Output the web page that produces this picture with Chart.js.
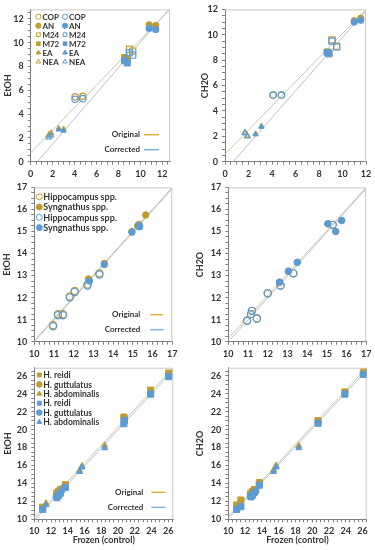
<!DOCTYPE html>
<html>
<head>
<meta charset="utf-8">
<script src="https://cdn.jsdelivr.net/npm/chart.js"></script>
<style>
  html, body { margin: 0; padding: 0; background: #fff; }
  body { width: 375px; height: 550px; position: relative; overflow: hidden; }
  canvas { position: absolute; }
</style>
</head>
<body>
<canvas id="p1" width="187" height="178" style="left:0;top:0"></canvas>
<canvas id="p2" width="188" height="178" style="left:187px;top:0"></canvas>
<canvas id="p3" width="187" height="180" style="left:0;top:178px"></canvas>
<canvas id="p4" width="188" height="180" style="left:187px;top:178px"></canvas>
<canvas id="p5" width="187" height="192" style="left:0;top:358px"></canvas>
<canvas id="p6" width="188" height="192" style="left:187px;top:358px"></canvas>
<script>
// ---- data ----
const stageLabels = ['COP', 'AN', 'M24', 'M72', 'EA', 'NEA'];
const stageStyles = ['circle', 'circle', 'rect', 'rect', 'triangle', 'triangle'];
const stageOpen = [true, false, true, false, false, true];

// top row: frozen value (x) per stage, original and corrected measures (y)
const stageX1 = [[4.05, 4.75], [10.8, 11.4], [9.0, 9.3], [8.55, 8.8], [2.55, 3.0], [1.65, 1.85]];
const etohOrig1 = [[5.45, 5.5], [11.5, 11.45], [9.45, 9.3], [8.75, 8.6], [2.8, 2.75], [2.25, 2.4]];
const etohCorr1 = [[5.25, 5.3], [11.2, 11.1], [9.15, 8.95], [8.5, 8.3], [2.7, 2.6], [2.05, 2.2]];

const stageX2 = [[4.1, 4.8], [11.0, 11.55], [9.1, 9.5], [8.7, 8.85], [2.6, 3.1], [1.7, 1.9]];
const ch2oOrig2 = [[5.25, 5.25], [11.1, 11.3], [9.6, 9.1], [8.65, 8.55], [2.2, 2.8], [2.3, 2.05]];
const ch2oCorr2 = [[5.25, 5.25], [11.0, 11.15], [9.5, 9.05], [8.6, 8.5], [2.15, 2.75], [2.25, 2.0]];

// middle row: genera
const genusLabels = ['Hippocampus spp.', 'Syngnathus spp.'];
const hippoX3 = [10.95, 11.2, 11.45, 11.8, 12.05, 12.7, 13.3, 15.3];
const hippoEtohOrig = [10.75, 11.25, 11.25, 12.05, 12.3, 12.6, 13.1, 15.3];
const hippoEtohCorr = [10.7, 11.2, 11.2, 12.0, 12.25, 12.55, 13.05, 15.25];
const syngX3 = [12.75, 13.55, 14.95, 15.25, 15.65];
const syngEtohOrig = [12.85, 13.55, 15.0, 15.25, 15.75];
const syngCorrX3 = [12.8, 13.55, 14.95, 15.35];
const syngEtohCorr = [12.75, 13.5, 14.97, 15.22];

const hippoX4 = [10.95, 11.15, 11.2, 11.45, 12.0, 12.65, 13.3, 15.3];
const hippoCh2oOrig = [10.95, 11.25, 11.4, 11.05, 12.2, 12.55, 13.1, 15.3];
const hippoCh2oCorr = [10.95, 11.25, 11.4, 11.05, 12.2, 12.55, 13.1, 15.3];
const syngX4 = [12.6, 13.05, 13.5, 15.05, 15.45, 15.75];
const syngCh2oOrig = [12.7, 13.2, 13.6, 15.35, 15.0, 15.5];
const syngCh2oCorr = [12.7, 13.2, 13.6, 15.35, 15.0, 15.5];

// bottom row: species
const speciesLabels = ['H. reidi', 'H. guttulatus', 'H. abdominalis'];
const reidiX5 = [11.0, 12.7, 12.9, 13.1, 13.7, 20.7, 20.75, 23.9, 26.05];
const reidiEtohOrig = [11.35, 12.95, 13.1, 13.3, 13.85, 21.4, 21.2, 24.4, 26.3];
const reidiEtohCorr = [11.1, 12.4, 12.65, 12.9, 13.55, 20.65, 21.0, 23.95, 25.9];
const guttX5 = [12.6, 13.3];
const guttEtohOrig = [12.75, 13.45];
const guttEtohCorr = [12.5, 13.2];
const abdoX5 = [11.4, 15.4, 15.7, 18.4];
const abdoEtohOrig = [11.8, 15.45, 15.95, 18.25];
const abdoEtohCorr = [11.6, 15.3, 15.8, 17.95];

const reidiX6 = [11.0, 11.5, 12.7, 12.9, 13.1, 13.7, 20.7, 23.9, 26.1];
const reidiCh2oOrig = [11.6, 12.15, 12.9, 13.1, 13.3, 14.1, 21.0, 24.2, 26.4];
const reidiCh2oCorr = [11.1, 11.4, 12.5, 12.7, 13.0, 13.8, 20.7, 23.95, 26.15];
const guttX6 = [12.6, 13.3];
const guttCh2oOrig = [12.95, 13.35];
const guttCh2oCorr = [12.6, 13.1];
const abdoX6 = [11.0, 15.4, 15.7, 18.4];
const abdoCh2oOrig = [11.3, 15.5, 16.0, 18.2];
const abdoCh2oCorr = [11.0, 15.3, 15.8, 17.95];

// fitted lines (end points)
const fitOrig1 = [[0, 0.75], [12.7, 12.8]];
const fitCorr1 = [[0.6, 0], [12.6, 12.8]];
const fitOrig2 = [[0, 0.6], [12, 12]];
const fitCorr2 = [[0.7, 0], [12, 11.9]];
const fitOrig3 = [[10, 10.05], [17, 17]];
const fitCorr3 = [[10, 10], [17, 16.95]];
const fitOrig4 = [[10, 10.15], [17, 17]];
const fitCorr4 = [[10.1, 10.1], [17, 16.95]];
const fitOrig5 = [[10, 10.2], [26.6, 26.9]];
const fitCorr5 = [[10.1, 10], [26.6, 26.6]];
const fitOrig6 = [[10, 10.3], [26.5, 26.9]];
const fitCorr6 = [[10, 10.1], [26.5, 26.6]];

// tick labels
const ticksTop = [0, 2, 4, 6, 8, 10, 12];
const ticksMid = [10, 11, 12, 13, 14, 15, 16, 17];
const ticksBottom = [10, 12, 14, 16, 18, 20, 22, 24, 26];

const GOLD = '#C29B2F';
const BLUE = '#5B9BD5';

Chart.defaults.font.family = 'Lato, "Liberation Sans", sans-serif';
Chart.defaults.color = '#333';

function drawMarker(ctx, style, x, y, r, fill, stroke) {
  ctx.beginPath();
  if (style === 'circle') {
    ctx.arc(x, y, r, 0, Math.PI * 2);
  } else if (style === 'rect') {
    const s = r * Math.SQRT1_2;
    ctx.rect(x - s, y - s, 2 * s, 2 * s);
  } else {
    const h = r * 1.5;
    ctx.moveTo(x, y - r);
    ctx.lineTo(x + h * 0.577, y + r * 0.5);
    ctx.lineTo(x - h * 0.577, y + r * 0.5);
    ctx.closePath();
  }
  ctx.fillStyle = fill;
  ctx.fill();
  ctx.strokeStyle = stroke;
  ctx.lineWidth = 1;
  ctx.stroke();
}

// frame + legends drawn inside the plot area
const panelDecor = {
  id: 'panelDecor',
  beforeDatasetsDraw(chart) {
    const { ctx, chartArea: a } = chart;
    ctx.save();
    ctx.strokeStyle = '#c8c8c8';
    ctx.lineWidth = 1;
    ctx.beginPath();
    ctx.moveTo(a.left, a.top + 0.5);
    ctx.lineTo(a.right - 0.5, a.top + 0.5);
    ctx.lineTo(a.right - 0.5, a.bottom);
    ctx.stroke();
    ctx.restore();
  },
  afterDatasetsDraw(chart, args, opts) {
    const { ctx, chartArea: a } = chart;
    ctx.save();
    ctx.textBaseline = 'middle';
    if (opts.marks) {
      ctx.font = 'bold ' + (opts.marks.fontSize || 8) + 'px Lato, "Liberation Sans", sans-serif';
      const items = chart.data.datasets.filter(d => d.inLegend);
      items.forEach((d, i) => {
        const col = Math.floor(i / opts.marks.rows);
        const row = i % opts.marks.rows;
        const x = a.left + opts.marks.dx + col * opts.marks.colW;
        const y = a.top + opts.marks.dy + row * opts.marks.rowH;
        drawMarker(ctx, d.pointStyle, x, y, opts.marks.r, d.open ? '#fff' : d.borderColor, d.borderColor);
        ctx.fillStyle = '#333';
        ctx.textAlign = 'left';
        ctx.fillText(d.label, x + 4, y + 0.5);
      });
    }
    if (opts.fits) {
      ctx.font = 'bold 8px Lato, "Liberation Sans", sans-serif';
      const fits = chart.data.datasets.filter(d => d.isFit);
      fits.forEach((d, i) => {
        const y = a.bottom - 27 + i * 15;
        ctx.fillStyle = '#333';
        ctx.textAlign = 'right';
        ctx.fillText(d.label, a.right - opts.fits.textR, y);
        ctx.strokeStyle = d.legendColor;
        ctx.lineWidth = 1.5;
        ctx.beginPath();
        ctx.moveTo(a.right - opts.fits.l0, y);
        ctx.lineTo(a.right - opts.fits.l1, y);
        ctx.stroke();
      });
    }
    ctx.restore();
  }
};

function pts(xs, ys) {
  return xs.map((x, i) => ({ x: x, y: ys[i] }));
}

function series(label, xs, ys, color, style, open, r, order) {
  return {
    label: label,
    data: pts(xs, ys),
    pointStyle: style,
    pointRadius: r,
    backgroundColor: open ? 'rgba(255,255,255,0)' : color,
    borderColor: color,
    borderWidth: open ? 1.2 : 1,
    showLine: false,
    order: order,
    open: open,
    inLegend: true
  };
}

function fitLine(label, ends, color, legendColor) {
  return {
    type: 'line',
    label: label,
    data: ends.map(p => ({ x: p[0], y: p[1] })),
    borderColor: color,
    borderWidth: 1,
    pointRadius: 0,
    fill: false,
    order: 10,
    isFit: true,
    legendColor: legendColor
  };
}

function axis(pos, min, max, majors, minor, size, title, titlePad) {
  return {
    type: 'linear',
    position: pos,
    min: min,
    max: max,
    afterBuildTicks: s => {
      const t = [];
      const n = Math.floor((max - min) / minor + 1e-6);
      for (let i = 0; i <= n; i++) t.push({ value: Math.round((min + i * minor) * 1000) / 1000 });
      s.ticks = t;
    },
    afterFit: s => {
      if (pos === 'left') s.width = size; else s.height = size;
    },
    grid: { drawOnChartArea: false, drawTicks: true, tickLength: 3, color: '#808080' },
    border: { color: '#808080' },
    ticks: {
      autoSkip: false,
      maxRotation: 0,
      padding: pos === 'left' ? 4 : 3.5,
      font: { size: 9, weight: 'bold' },
      color: '#333',
      callback: v => majors.includes(v) ? String(v) : ''
    },
    title: title ? {
      display: true,
      text: title,
      font: { size: 9, weight: 'bold' },
      color: '#333',
      padding: pos === 'left' ? { top: titlePad, bottom: 0 } : { top: 0, bottom: titlePad }
    } : { display: false }
  };
}

function makePanel(id, datasets, pad, xAxis, yAxis, decor) {
  new Chart(document.getElementById(id), {
    type: 'scatter',
    data: { datasets: datasets },
    options: {
      responsive: false,
      animation: false,
      events: [],
      layout: { padding: { top: pad[0], right: pad[1], bottom: 0, left: 0 } },
      plugins: { legend: { display: false }, tooltip: { enabled: false }, panelDecor: decor },
      scales: { x: xAxis, y: yAxis }
    },
    plugins: [panelDecor]
  });
}

function stageSets(xs, orig, corr, sizes) {
  const gold = stageLabels.map((l, i) => series(l, xs[i], orig[i], GOLD, stageStyles[i], stageOpen[i], sizes[stageStyles[i]], 2));
  const blue = stageLabels.map((l, i) => series(l, xs[i], corr[i], BLUE, stageStyles[i], stageOpen[i], sizes[stageStyles[i]], 1));
  return gold.concat(blue);
}

const topSizes = { circle: 3.2, rect: 4.3, triangle: 3 };
const bottomSizes = { circle: 3, rect: 4.3, triangle: 3.5 };

// panel 1: EtOH, stages
makePanel('p1',
  stageSets(stageX1, etohOrig1, etohCorr1, topSizes).concat([
    fitLine('Original', fitOrig1, '#cdc5a8', '#E0B040'),
    fitLine('Corrected', fitCorr1, '#b4c2cf', '#7FB2E0')
  ]),
  [5, 17],
  axis('bottom', 0, 12.7, ticksTop, 0.5, 16.3),
  axis('left', 0, 12.8, ticksTop, 0.5, 30.7, 'EtOH', 2.6),
  { marks: { rows: 6, dx: 7.7, dy: 7.3, rowH: 9, colW: 26.6, r: 2.6 }, fits: { textR: 30, l0: 26, l1: 11 } }
);

// panel 2: CH2O, stages
makePanel('p2',
  stageSets(stageX2, ch2oOrig2, ch2oCorr2, topSizes).concat([
    fitLine('Original', fitOrig2, '#cdc5a8', '#E0B040'),
    fitLine('Corrected', fitCorr2, '#b4c2cf', '#7FB2E0')
  ]),
  [4, 9],
  axis('bottom', 0, 12, ticksTop, 0.5, 16.3),
  axis('left', 0, 12, ticksTop, 0.5, 38, 'CH2O', 12.6),
  {}
);

// panel 3: EtOH, genera
makePanel('p3', [
    series(genusLabels[0], hippoX3, hippoEtohOrig, GOLD, 'circle', true, 3.6, 2),
    series(genusLabels[1], syngX3, syngEtohOrig, GOLD, 'circle', false, 3.2, 2),
    series(genusLabels[0], hippoX3, hippoEtohCorr, BLUE, 'circle', true, 3.6, 1),
    series(genusLabels[1], syngCorrX3, syngEtohCorr, BLUE, 'circle', false, 3.2, 1),
    fitLine('Original', fitOrig3, '#cdc5a8', '#E0B040'),
    fitLine('Corrected', fitCorr3, '#b4c2cf', '#7FB2E0')
  ],
  [8.7, 14.7],
  axis('bottom', 10, 17, ticksMid, 0.25, 16.3),
  axis('left', 10, 17, ticksMid, 0.25, 34.3, 'EtOH', 1.3),
  { marks: { rows: 4, dx: 5, dy: 9.3, rowH: 10.3, colW: 0, r: 3, fontSize: 9 }, fits: { textR: 32, l0: 22, l1: 9 } }
);

// panel 4: CH2O, genera
makePanel('p4', [
    series(genusLabels[0], hippoX4, hippoCh2oOrig, GOLD, 'circle', true, 3.6, 2),
    series(genusLabels[1], syngX4, syngCh2oOrig, GOLD, 'circle', false, 3.2, 2),
    series(genusLabels[0], hippoX4, hippoCh2oCorr, BLUE, 'circle', true, 3.6, 1),
    series(genusLabels[1], syngX4, syngCh2oCorr, BLUE, 'circle', false, 3.2, 1),
    fitLine('Original', fitOrig4, '#cdc5a8', '#E0B040'),
    fitLine('Corrected', fitCorr4, '#b4c2cf', '#7FB2E0')
  ],
  [9.3, 7.7],
  axis('bottom', 10, 17, ticksMid, 0.25, 16.3),
  axis('left', 10, 17, ticksMid, 0.25, 41.3, 'CH2O', 7.6),
  {}
);

// panel 5: EtOH, species
makePanel('p5', [
    series(speciesLabels[0], reidiX5, reidiEtohOrig, GOLD, 'rect', false, bottomSizes.rect, 2),
    series(speciesLabels[1], guttX5, guttEtohOrig, GOLD, 'circle', false, bottomSizes.circle, 2),
    series(speciesLabels[2], abdoX5, abdoEtohOrig, GOLD, 'triangle', false, bottomSizes.triangle, 2),
    series(speciesLabels[0], reidiX5, reidiEtohCorr, BLUE, 'rect', false, bottomSizes.rect, 1),
    series(speciesLabels[1], guttX5, guttEtohCorr, BLUE, 'circle', false, bottomSizes.circle, 1),
    series(speciesLabels[2], abdoX5, abdoEtohCorr, BLUE, 'triangle', false, bottomSizes.triangle, 1),
    fitLine('Original', fitOrig5, '#cdc5a8', '#E0B040'),
    fitLine('Corrected', fitCorr5, '#b4c2cf', '#7FB2E0')
  ],
  [9.7, 13.7],
  axis('bottom', 10, 26.6, ticksBottom, 0.5, 30.7, 'Frozen (control)', 4.6),
  axis('left', 10, 26.9, ticksBottom, 0.5, 34.3, 'EtOH', 2.9),
  { marks: { rows: 6, dx: 5, dy: 7.3, rowH: 9.4, colW: 0, r: 2.8, fontSize: 8.5 }, fits: { textR: 30, l0: 22, l1: 8 } }
);

// panel 6: CH2O, species
makePanel('p6', [
    series(speciesLabels[0], reidiX6, reidiCh2oOrig, GOLD, 'rect', false, bottomSizes.rect, 2),
    series(speciesLabels[1], guttX6, guttCh2oOrig, GOLD, 'circle', false, bottomSizes.circle, 2),
    series(speciesLabels[2], abdoX6, abdoCh2oOrig, GOLD, 'triangle', false, bottomSizes.triangle, 2),
    series(speciesLabels[0], reidiX6, reidiCh2oCorr, BLUE, 'rect', false, bottomSizes.rect, 1),
    series(speciesLabels[1], guttX6, guttCh2oCorr, BLUE, 'circle', false, bottomSizes.circle, 1),
    series(speciesLabels[2], abdoX6, abdoCh2oCorr, BLUE, 'triangle', false, bottomSizes.triangle, 1),
    fitLine('Original', fitOrig6, '#cdc5a8', '#E0B040'),
    fitLine('Corrected', fitCorr6, '#b4c2cf', '#7FB2E0')
  ],
  [9.7, 8.3],
  axis('bottom', 10, 26.5, ticksBottom, 0.5, 30.7, 'Frozen (control)', 4.6),
  axis('left', 10, 26.9, ticksBottom, 0.5, 41.3, 'CH2O', 7.6),
  {}
);
</script>
</body>
</html>
